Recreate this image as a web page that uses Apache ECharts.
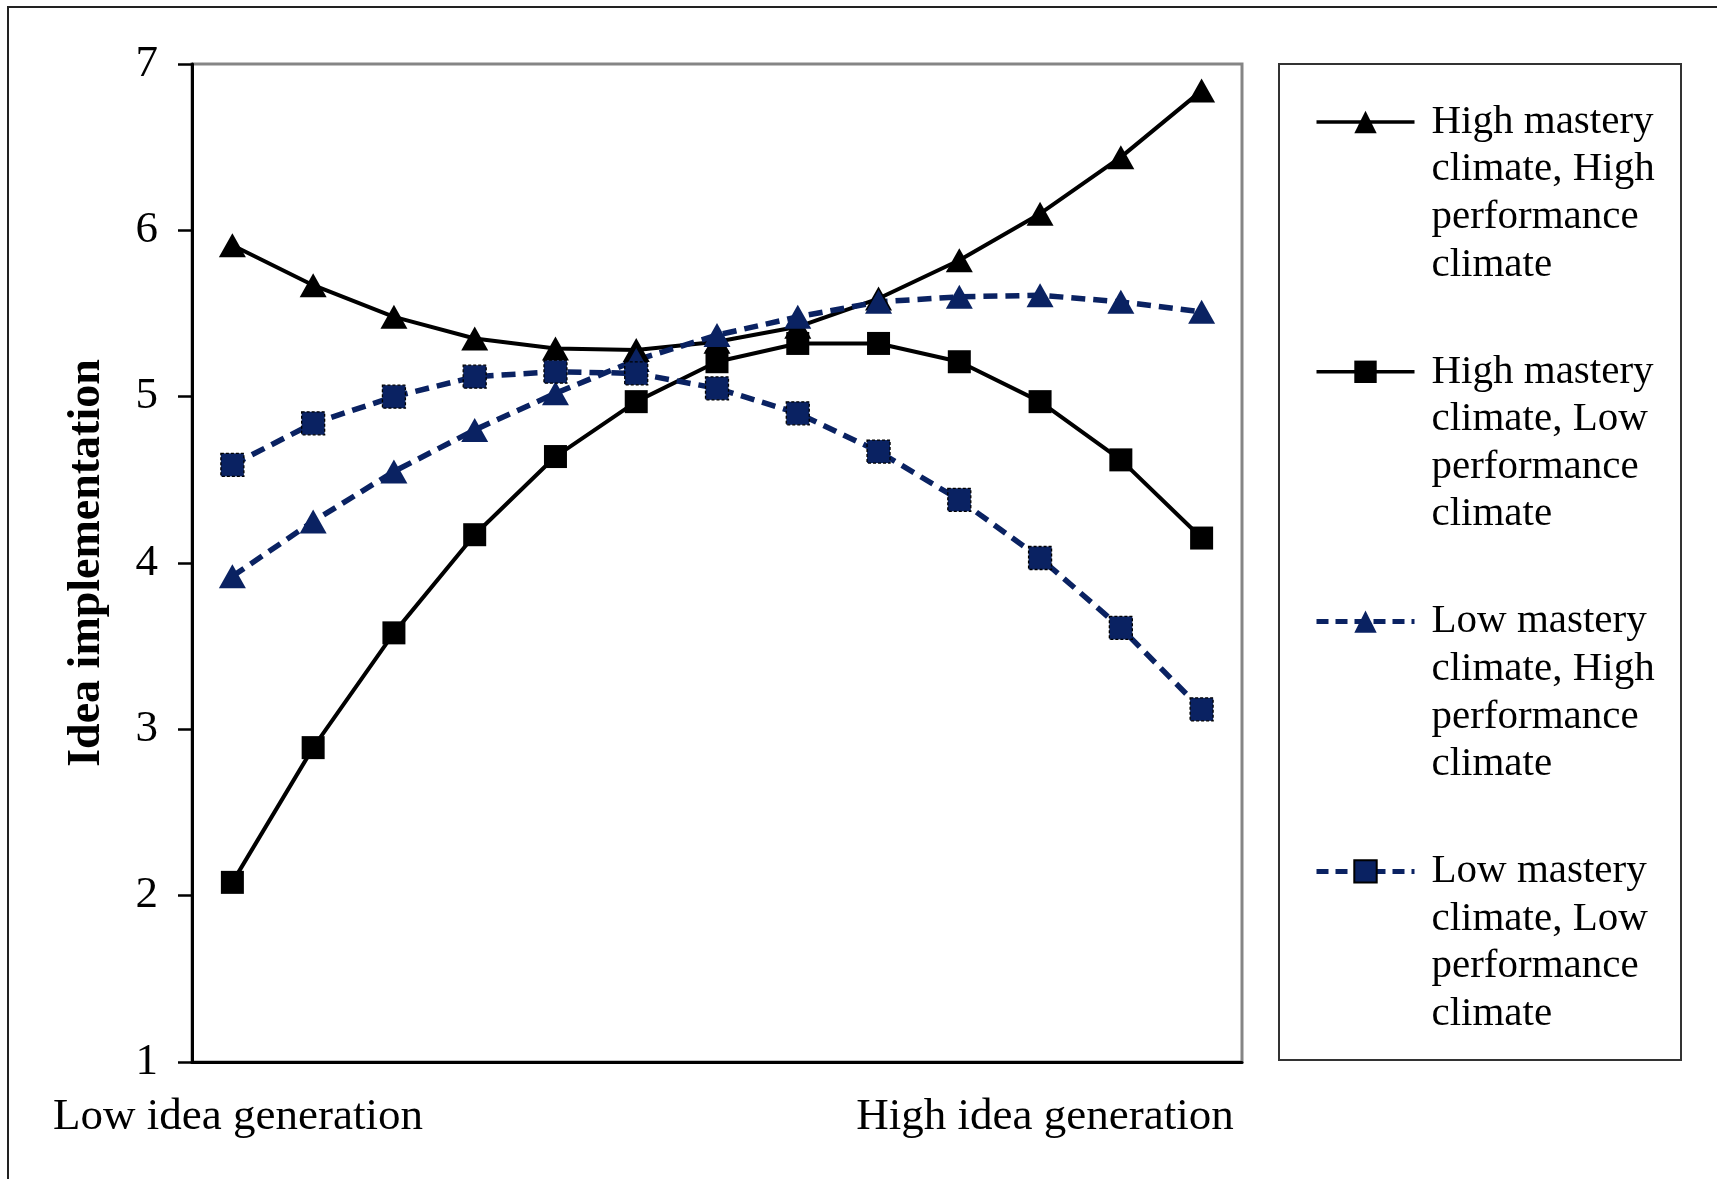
<!DOCTYPE html>
<html>
<head>
<meta charset="utf-8">
<script src="https://cdn.jsdelivr.net/npm/echarts@6/dist/echarts.min.js"></script>
<style>
html,body{margin:0;padding:0;background:#fff;}
#chart{width:1717px;height:1179px;}
</style>
</head>
<body>
<div id="chart"></div>
<script>
// ---- data ----
var xCategories = ['1','2','3','4','5','6','7','8','9','10','11','12','13'];
var xEndLabels = ['Low idea generation', 'High idea generation'];
var yTicks = [1, 2, 3, 4, 5, 6, 7];
var seriesNames = [
  'High mastery\nclimate, High\nperformance\nclimate',
  'High mastery\nclimate, Low\nperformance\nclimate',
  'Low mastery\nclimate, High\nperformance\nclimate',
  'Low mastery\nclimate, Low\nperformance\nclimate'
];
var hmHp = [5.91, 5.67, 5.48, 5.35, 5.29, 5.28, 5.33, 5.42, 5.59, 5.82, 6.10, 6.44, 6.84];
var hmLp = [2.08, 2.89, 3.58, 4.17, 4.64, 4.97, 5.21, 5.32, 5.32, 5.21, 4.97, 4.62, 4.15];
var lmHp = [3.92, 4.25, 4.55, 4.80, 5.02, 5.22, 5.37, 5.48, 5.57, 5.60, 5.61, 5.57, 5.51];
var lmLp = [4.59, 4.84, 5.00, 5.12, 5.15, 5.14, 5.05, 4.90, 4.67, 4.38, 4.03, 3.61, 3.12];
var yTitle = 'Idea implementation';

// ---- styles ----
var FONT = '"Liberation Serif", "Times New Roman", serif';
var NAVY = '#0a2262';

function solidLine() { return {color: '#000', width: 4, type: 'solid'}; }
function dashedLine() { return {color: NAVY, width: 5.5, type: [14, 8]}; }

var chart = echarts.init(document.getElementById('chart'), null, {renderer: 'canvas'});

function solidSeries(name, data, symbol, size) {
  return {
    name: name, type: 'line', data: data,
    symbol: symbol, symbolSize: size,
    lineStyle: solidLine(),
    itemStyle: {color: '#000', borderWidth: 0},
    emphasis: {disabled: true}, animation: false
  };
}
function dashedSeries(name, data, symbol, size, bordered) {
  return {
    name: name, type: 'line', data: data,
    symbol: symbol, symbolSize: size,
    lineStyle: dashedLine(),
    itemStyle: bordered ? {color: NAVY, borderColor: '#000', borderWidth: 1.3, borderType: [3, 2]} : {color: NAVY, borderWidth: 0},
    emphasis: {disabled: true}, animation: false
  };
}

var option = {
  backgroundColor: '#fff',
  animation: false,
  grid: {
    left: 192, right: 475, top: 64, bottom: 117,
    show: true, borderColor: '#858585', borderWidth: 3, backgroundColor: 'transparent'
  },
  xAxis: {
    type: 'category', data: xCategories, boundaryGap: true,
    axisLine: {show: true, lineStyle: {color: '#000', width: 3}},
    axisTick: {show: false},
    axisLabel: {show: false},
    splitLine: {show: false}
  },
  yAxis: {
    type: 'value', min: yTicks[0], max: yTicks[yTicks.length - 1], interval: 1,
    name: yTitle, nameLocation: 'middle', nameGap: 82,
    nameTextStyle: {fontFamily: FONT, fontSize: 46, fontWeight: 'bold', color: '#000'},
    axisLine: {show: true, lineStyle: {color: '#000', width: 3}},
    axisTick: {show: true, inside: false, length: 14, lineStyle: {color: '#000', width: 2.5}},
    axisLabel: {margin: 34, fontFamily: FONT, fontSize: 45, color: '#000'},
    splitLine: {show: false}
  },
  legend: {
    orient: 'vertical',
    left: 1314, top: 101.5,
    padding: 0,
    itemWidth: 98, itemHeight: 28,
    itemGap: 66,
    selectedMode: false,
    data: [
      {name: seriesNames[0], lineStyle: {color: '#000', width: 3.5, type: 'solid'}},
      {name: seriesNames[1], lineStyle: {color: '#000', width: 3.5, type: 'solid'}},
      {name: seriesNames[2], lineStyle: {color: NAVY, width: 5, type: [12, 7]}},
      {name: seriesNames[3], lineStyle: {color: NAVY, width: 5, type: [12, 7]}}
    ],
    formatter: function (name) {
      return '{t|' + name.split('\n').join('}\n{t|') + '}';
    },
    textStyle: {
      padding: [142.8, 0, 0, 12],
      rich: {t: {fontFamily: FONT, fontSize: 41, lineHeight: 47.6, color: '#000'}}
    }
  },
  graphic: [
    {type: 'rect', shape: {x: 8, y: 7, width: 1800, height: 1300}, style: {fill: 'none', stroke: '#222', lineWidth: 2}, silent: true, z: -10},
    {type: 'rect', shape: {x: 1279, y: 64, width: 402, height: 996}, style: {fill: 'none', stroke: '#333', lineWidth: 2}, silent: true},
    {type: 'text', x: 238, y: 1117, style: {text: xEndLabels[0], font: '45px ' + FONT, fill: '#000', align: 'center', verticalAlign: 'middle'}, silent: true},
    {type: 'text', x: 1045, y: 1117, style: {text: xEndLabels[1], font: '45px ' + FONT, fill: '#000', align: 'center', verticalAlign: 'middle'}, silent: true}
  ],
  series: [
    solidSeries(seriesNames[0], hmHp, 'triangle', [27, 24]),
    solidSeries(seriesNames[1], hmLp, 'rect', [23, 23]),
    dashedSeries(seriesNames[2], lmHp, 'triangle', [27, 24], false),
    dashedSeries(seriesNames[3], lmLp, 'rect', [23, 23], true)
  ]
};
chart.setOption(option);
</script>
</body>
</html>
